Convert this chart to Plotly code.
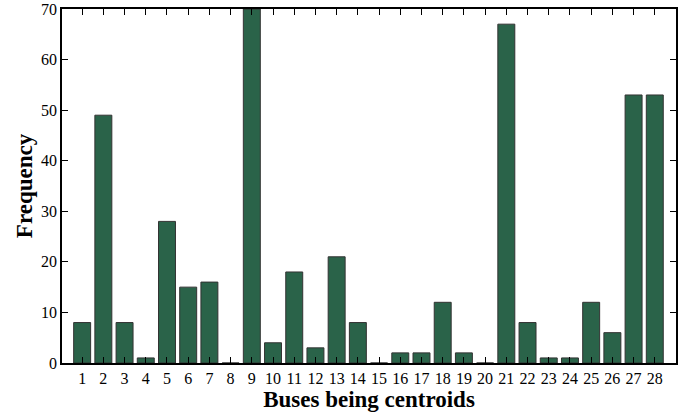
import plotly.graph_objects as go

buses = list(range(1, 29))
frequency = [8, 49, 8, 1, 28, 15, 16, 0, 70, 4, 18, 3, 21, 8, 0, 2, 2, 12, 2, 0, 67, 8, 1, 1, 12, 6, 53, 53]
tick_labels = [str(b) for b in buses]

fig = go.Figure(go.Bar(
    x=buses, y=frequency,
    marker=dict(color="#2a6349", line=dict(color="#333333", width=1)),
))

fig.update_layout(
    width=688, height=413,
    margin=dict(l=62, r=12, t=9, b=50),
    plot_bgcolor="white", paper_bgcolor="white",
    bargap=0.2, showlegend=False,
    font=dict(family="Liberation Serif", color="black", size=16),
)
fig.update_xaxes(
    range=[0.05, 29.0], tickmode="array", tickvals=buses, ticktext=tick_labels,
    ticks="inside", ticklen=6, tickcolor="black", tickwidth=1,
    showline=True, linecolor="black", linewidth=1.5, mirror="allticks",
    showgrid=False, zeroline=False, automargin=False,
    title=dict(text="<b>Buses being centroids</b>", font=dict(size=23), standoff=0),
    tickfont=dict(size=16),
)
fig.update_yaxes(
    range=[0, 70], tickvals=[0, 10, 20, 30, 40, 50, 60, 70],
    ticks="inside", ticklen=6, tickcolor="black", tickwidth=1,
    showline=True, linecolor="black", linewidth=1.5, mirror="allticks",
    showgrid=False, zeroline=False, automargin=False,
    title=dict(text="<b>Frequency</b>", font=dict(size=23), standoff=2),
    tickfont=dict(size=16),
)

fig.write_html("out.html")
